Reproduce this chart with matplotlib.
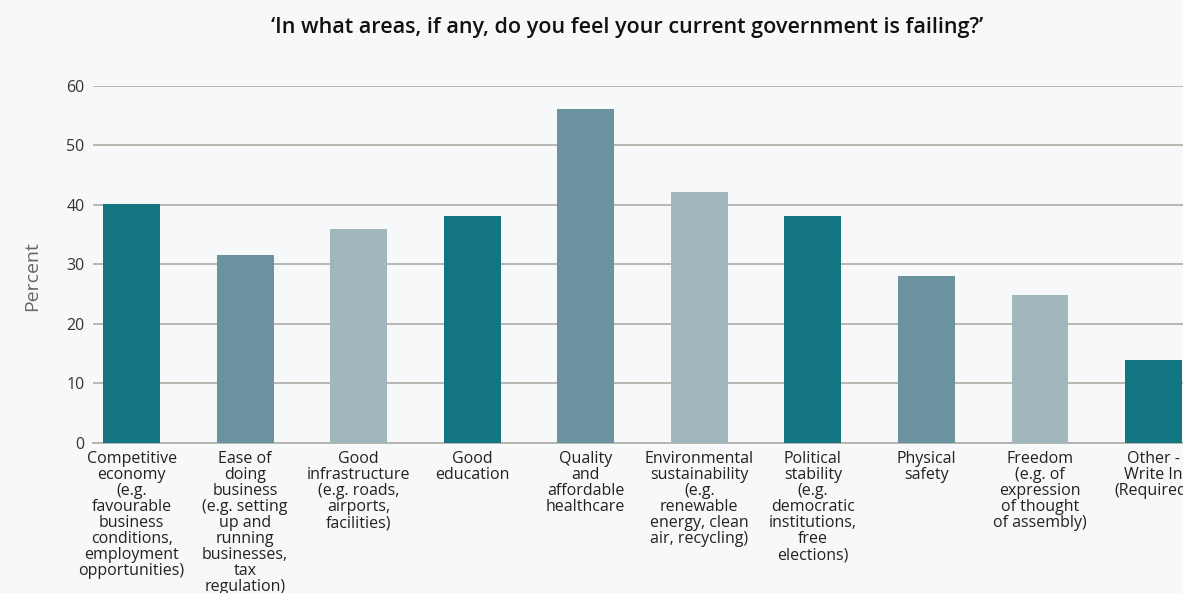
import numpy as np
import matplotlib.pyplot as plt

plt.rcParams['font.family'] = ['Open Sans', 'DejaVu Sans']

categories = [
    "Competitive\neconomy\n(e.g.\nfavourable\nbusiness\nconditions,\nemployment\nopportunities)",
    "Ease of\ndoing\nbusiness\n(e.g. setting\nup and\nrunning\nbusinesses,\ntax\nregulation)",
    "Good\ninfrastructure\n(e.g. roads,\nairports,\nfacilities)",
    "Good\neducation",
    "Quality\nand\naffordable\nhealthcare",
    "Environmental\nsustainability\n(e.g.\nrenewable\nenergy, clean\nair, recycling)",
    "Political\nstability\n(e.g.\ndemocratic\ninstitutions,\nfree\nelections)",
    "Physical\nsafety",
    "Freedom\n(e.g. of\nexpression\nof thought\nof assembly)",
    "Other -\nWrite In\n(Required)",
]
values = [40.2, 31.6, 36.0, 38.2, 56.1, 42.2, 38.2, 28.1, 24.9, 13.9]
palette = ["#137581", "#6a939f", "#a2b6be"]
yticks = [0, 10, 20, 30, 40, 50, 60]

bg = "#f7f8fa"
fig = plt.figure(figsize=(11.83, 5.93), dpi=100, facecolor=bg)
ax = fig.add_axes([0.0786, 0.253, 1 - 0.0786, 0.602], facecolor=bg)

x = np.arange(len(values))
colors = [palette[i % 3] for i in range(len(values))]
ax.bar(x, values, width=0.5, color=colors, zorder=3)

ax.set_xlim(-0.34, 9.26)
ax.set_ylim(0, 60)
ax.set_yticks(yticks)
ax.yaxis.grid(True, color="#b3b3ad", linewidth=1.3, zorder=0)
ax.tick_params(axis='y', length=0, labelsize=11.5, labelcolor="#333333", pad=6)
ax.tick_params(axis='x', length=0, pad=6)
ax.set_xticks(x)
ax.set_xticklabels(categories, fontsize=11.5, color="#222222", linespacing=1.0,
                   va='top')
for s in ['top', 'right', 'left']:
    ax.spines[s].set_visible(False)
ax.spines['bottom'].set_color("#b3b3ad")
ax.spines['bottom'].set_linewidth(1.3)

ax.set_ylabel("Percent", fontsize=14, color="#666666", va='center')
ax.yaxis.set_label_coords(-0.056, 0.468)

fig.text(0.53, 0.953, "\u2018In what areas, if any, do you feel your current government is failing?\u2019",
         ha='center', va='center', fontsize=15.5, fontweight='semibold', color="#111111")

fig.savefig("out.png", dpi=100, facecolor=bg)
